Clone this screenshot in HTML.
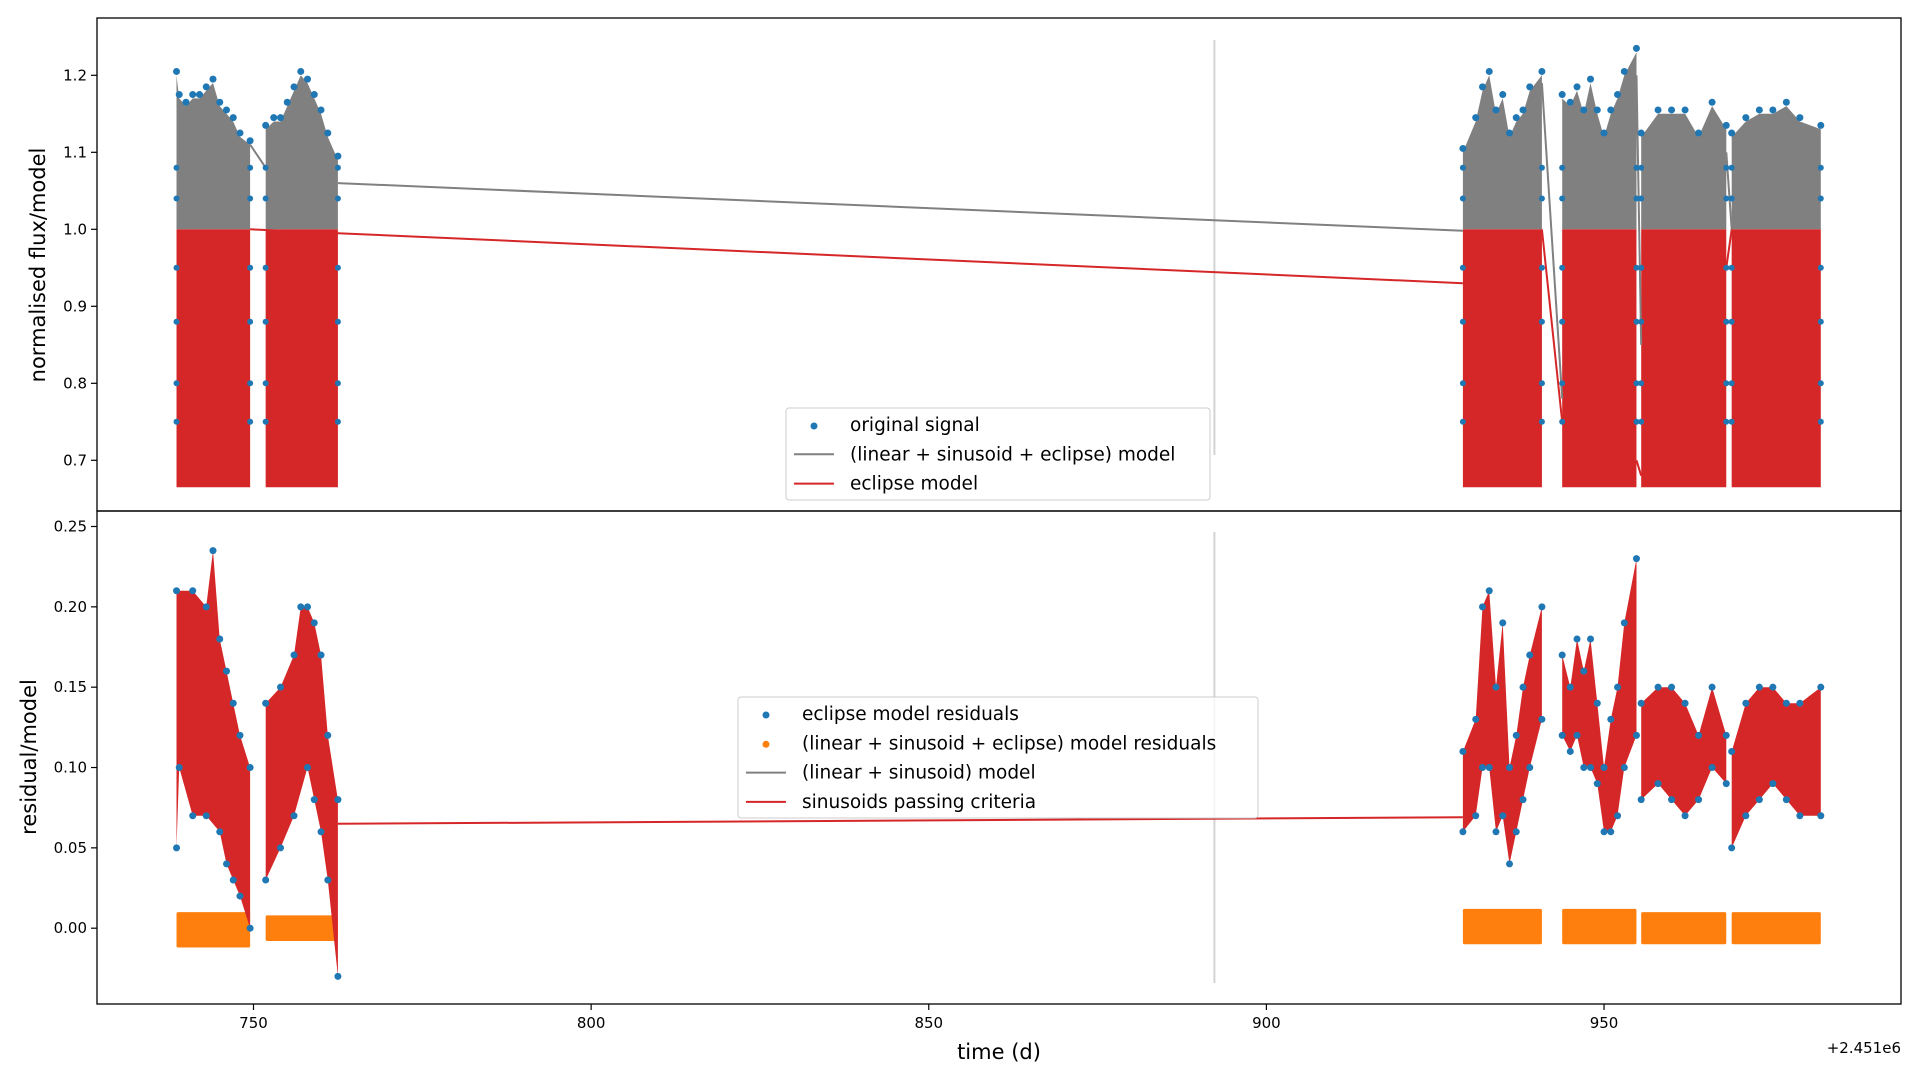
<!DOCTYPE html>
<html><head><meta charset="utf-8"><style>
body{margin:0;background:#fff;}
svg text{font-family:"DejaVu Sans","Liberation Sans",sans-serif;}
</style></head><body>
<svg id="c" width="1920" height="1080" xmlns="http://www.w3.org/2000/svg"></svg>
<script>
const xTicks=[750,800,850,900,950];
const topYTicks=[0.7,0.8,0.9,1.0,1.1,1.2];
const botYTicks=[0.00,0.05,0.10,0.15,0.20,0.25];
const segments=[[738.6,749.5],[751.8,762.5],[929.1,940.8],[943.8,954.8],[955.5,968.1],[968.9,982.1]];
const topEnv=[
 [[738.6,1.2],[739,1.17],[740,1.16],[741,1.17],[742,1.17],[743,1.18],[744,1.19],[745,1.16],[746,1.15],[747,1.14],[748,1.12],[749.5,1.11]],
 [[751.8,1.13],[753,1.14],[754,1.14],[755,1.16],[756,1.18],[757,1.2],[758,1.19],[759,1.17],[760,1.15],[761,1.12],[762.5,1.09]],
 [[929.1,1.1],[931,1.14],[932,1.18],[933,1.2],[934,1.15],[935,1.17],[936,1.12],[937,1.14],[938,1.15],[939,1.18],[940.8,1.2]],
 [[943.8,1.17],[945,1.16],[946,1.18],[947,1.15],[948,1.19],[949,1.15],[950,1.12],[951,1.15],[952,1.17],[953,1.2],[954.8,1.23]],
 [[955.5,1.12],[958,1.15],[960,1.15],[962,1.15],[964,1.12],[966,1.16],[968.1,1.13]],
 [[968.9,1.12],[971,1.14],[973,1.15],[975,1.15],[977,1.16],[979,1.14],[982.1,1.13]]];
const redBottom=[0.665,0.665,0.665,0.665,0.665,0.665];
const grayModelLines=[[[762.5,1.06],[929.1,0.998]],[[940.8,1.19],[943.8,0.78]],[[954.8,1.2],[955.5,0.85]],[[968.1,1.1],[968.9,1.0]],[[749.5,1.11],[751.8,1.08]]];
const redModelLines=[[[749.5,1.0],[762.5,0.995],[929.1,0.93]],[[940.8,1.0],[943.8,0.75]],[[954.8,0.7],[955.5,0.68]],[[968.1,0.95],[968.9,1.0]]];
const botUpper=[
 [[738.6,0.21],[741,0.21],[743,0.2],[744,0.235],[745,0.18],[746,0.16],[747,0.14],[748,0.12],[749.5,0.1]],
 [[751.8,0.14],[754,0.15],[756,0.17],[757,0.2],[758,0.2],[759,0.19],[760,0.17],[761,0.12],[762.5,0.08]],
 [[929.1,0.11],[931,0.13],[932,0.2],[933,0.21],[934,0.15],[935,0.19],[936,0.1],[937,0.12],[938,0.15],[939,0.17],[940.8,0.2]],
 [[943.8,0.17],[945,0.15],[946,0.18],[947,0.16],[948,0.18],[949,0.14],[950,0.1],[951,0.13],[952,0.15],[953,0.19],[954.8,0.23]],
 [[955.5,0.14],[958,0.15],[960,0.15],[962,0.14],[964,0.12],[966,0.15],[968.1,0.12]],
 [[968.9,0.11],[971,0.14],[973,0.15],[975,0.15],[977,0.14],[979,0.14],[982.1,0.15]]];
const botLower=[
 [[738.6,0.05],[739,0.1],[741,0.07],[743,0.07],[745,0.06],[746,0.04],[747,0.03],[748,0.02],[749.5,0.0]],
 [[751.8,0.03],[754,0.05],[756,0.07],[758,0.1],[759,0.08],[760,0.06],[761,0.03],[762.5,-0.03]],
 [[929.1,0.06],[931,0.07],[932,0.1],[933,0.1],[934,0.06],[935,0.07],[936,0.04],[937,0.06],[938,0.08],[939,0.1],[940.8,0.13]],
 [[943.8,0.12],[945,0.11],[946,0.12],[947,0.1],[948,0.1],[949,0.09],[950,0.06],[951,0.06],[952,0.07],[953,0.1],[954.8,0.12]],
 [[955.5,0.08],[958,0.09],[960,0.08],[962,0.07],[964,0.08],[966,0.1],[968.1,0.09]],
 [[968.9,0.05],[971,0.07],[973,0.08],[975,0.09],[977,0.08],[979,0.07],[982.1,0.07]]];
const orangeBand=[[-0.012,0.01],[-0.008,0.008],[-0.01,0.012],[-0.01,0.012],[-0.01,0.01],[-0.01,0.01]];
const botModelLine=[[762.5,0.065],[929.1,0.069]];

const NS="http://www.w3.org/2000/svg",svg=document.getElementById('c');
const L=97,R=1901,T1=18,B1=511,T2=511,B2=1004;
const x=d=>253.5+(d-750)*6.7527;
const y1=v=>229.3-(v-1.0)*770;
const y2=v=>928.2-v*1606.8;
function el(t,a,p){const e=document.createElementNS(NS,t);for(const k in a)e.setAttribute(k,a[k]);(p||svg).appendChild(e);return e;}
function pts(a,yf){return a.map(p=>x(p[0]).toFixed(1)+','+yf(p[1]).toFixed(1)).join(' ');}

let g=el('line',{x1:x(892.3),x2:x(892.3),y1:40,y2:455,stroke:'#d3d3d3','stroke-width':2});

g=el('line',{x1:x(892.3),x2:x(892.3),y1:532,y2:983,stroke:'#d3d3d3','stroke-width':2});


segments.forEach((s,i)=>{
 const env=topEnv[i];
 const poly=[[s[0],1.0]].concat(env).concat([[s[1],1.0]]);
 let p=el('polygon',{points:pts(poly,y1),fill:'#808080'});
 
 let r=el('rect',{x:x(s[0]),y:y1(1.0),width:x(s[1])-x(s[0]),height:y1(redBottom[i])-y1(1.0),fill:'#d62728'});
 
});
grayModelLines.forEach(ln=>{let pl=el('polyline',{points:pts(ln,y1),fill:'none',stroke:'#808080','stroke-width':2});
 });
redModelLines.forEach(ln=>{let pl=el('polyline',{points:pts(ln,y1),fill:'none',stroke:'#d62728','stroke-width':2});
 });
topEnv.forEach((env,i)=>{env.forEach(p=>{
 let c=el('circle',{cx:x(p[0]),cy:y1(p[1]+0.005),r:3.5,fill:'#1f77b4'});
 });
 const s=segments[i];
 [1.08,1.04,0.95,0.88,0.8,0.75].forEach(v=>{[s[0],s[1]].forEach(d=>{
 let c=el('circle',{cx:x(d),cy:y1(v),r:3,fill:'#1f77b4'});
 });});
});

segments.forEach((s,i)=>{
 const ob=orangeBand[i];
 let o=el('rect',{x:x(s[0]),y:y2(ob[1]),width:x(s[1])-x(s[0]),height:y2(ob[0])-y2(ob[1]),fill:'#ff7f0e',rx:1.5});
 
 const poly=botUpper[i].concat(botLower[i].slice().reverse());
 let p=el('polygon',{points:pts(poly,y2),fill:'#d62728'});
 
 botUpper[i].concat(botLower[i]).forEach(q=>{
  let c=el('circle',{cx:x(q[0]),cy:y2(q[1]),r:3.5,fill:'#1f77b4'});
  });
});
let pl=el('polyline',{points:pts(botModelLine,y2),fill:'none',stroke:'#d62728','stroke-width':2});


let f=el('rect',{x:L,y:T1,width:R-L,height:B1-T1,fill:'none',stroke:'#000','stroke-width':1.3});

f=el('rect',{x:L,y:T2,width:R-L,height:B2-T2,fill:'none',stroke:'#000','stroke-width':1.3});


function txt(s,a,name){const t=el('text',a);t.textContent=s;return t;}
topYTicks.forEach(v=>{const yy=y1(v);el('line',{x1:L-6,x2:L,y1:yy,y2:yy,stroke:'#000','stroke-width':1.2});
 txt(v.toFixed(1),{x:L-10,y:yy+5,'font-size':15,'text-anchor':'end'},'top-y-tick-label');});
botYTicks.forEach(v=>{const yy=y2(v);el('line',{x1:L-6,x2:L,y1:yy,y2:yy,stroke:'#000','stroke-width':1.2});
 txt(v.toFixed(2),{x:L-10,y:yy+5,'font-size':15,'text-anchor':'end'},'bottom-y-tick-label');});
xTicks.forEach(v=>{const xx=x(v);el('line',{x1:xx,x2:xx,y1:B2,y2:B2+6,stroke:'#000','stroke-width':1.2});
 txt(String(v),{x:xx,y:B2+24,'font-size':15,'text-anchor':'middle'},'x-tick-label');});
txt('+2.451e6',{x:1901,y:1053,'font-size':15,'text-anchor':'end'},'x-offset-label');
txt('time (d)',{x:999,y:1059,'font-size':21,'text-anchor':'middle'},'x-axis-title');
txt('normalised flux/model',{x:0,y:0,'font-size':21,'text-anchor':'middle',transform:'translate(45,265) rotate(-90)'},'top-y-axis-title');
txt('residual/model',{x:0,y:0,'font-size':21,'text-anchor':'middle',transform:'translate(36,757) rotate(-90)'},'bottom-y-axis-title');

function legend(x0,y0,w,h,items,name){
 const gg=el('g',{});
 el('rect',{x:x0,y:y0,width:w,height:h,fill:'#fff','fill-opacity':0.8,stroke:'#ccc',rx:3},gg);
 items.forEach((it,i)=>{const yy=y0+17+i*29.3;
  if(it[0]==='dot')el('circle',{cx:x0+28,cy:yy+1,r:3.5,fill:it[1]},gg);
  else el('line',{x1:x0+8,x2:x0+48,y1:yy,y2:yy,stroke:it[1],'stroke-width':2},gg);
  const t=el('text',{x:x0+64,y:yy+6,'font-size':18.5},gg);t.textContent=it[2];
  });
}
legend(786,408,424,92,[['dot','#1f77b4','original signal'],['line','#808080','(linear + sinusoid + eclipse) model'],['line','#d62728','eclipse model']],'top-legend');
legend(738,697,520,121,[['dot','#1f77b4','eclipse model residuals'],['dot','#ff7f0e','(linear + sinusoid + eclipse) model residuals'],['line','#808080','(linear + sinusoid) model'],['line','#d62728','sinusoids passing criteria']],'bottom-legend');
</script>
</body></html>
